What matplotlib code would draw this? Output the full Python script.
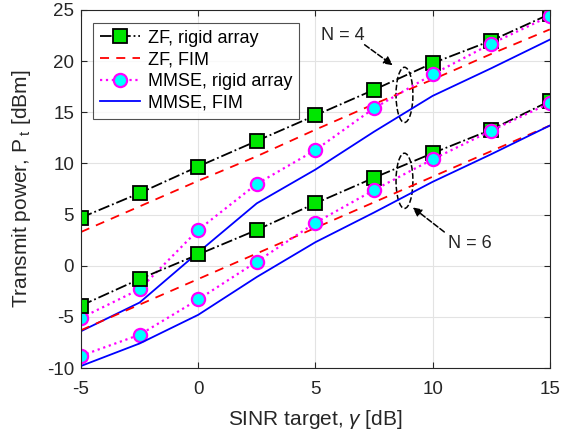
import matplotlib
matplotlib.use("Agg")
import matplotlib.pyplot as plt
from matplotlib.patches import Ellipse

plt.rcParams['font.family'] = ['Liberation Sans', 'DejaVu Sans']
plt.rcParams['mathtext.fontset'] = 'custom'
plt.rcParams['mathtext.rm'] = 'Liberation Sans'
plt.rcParams['mathtext.it'] = 'Liberation Sans:italic'
plt.rcParams['axes.unicode_minus'] = False

sinr = [-5, -2.5, 0, 2.5, 5, 7.5, 10, 12.5, 15]

zf_rigid_n4 = [4.7, 7.1, 9.7, 12.2, 14.7, 17.2, 19.8, 22.0, 24.6]
zf_fim_n4 = [3.3, 5.8, 8.3, 10.7, 13.3, 15.8, 18.2, 20.7, 23.1]
mmse_rigid_n4 = [-5.1, -2.3, 3.5, 8.0, 11.3, 15.4, 18.7, 21.7, 24.4]
mmse_fim_n4 = [-6.4, -3.6, 1.3, 6.1, 9.4, 13.1, 16.6, 19.3, 22.1]

zf_rigid_n6 = [-3.9, -1.3, 1.1, 3.5, 6.1, 8.6, 11.0, 13.3, 16.1]
zf_fim_n6 = [-6.3, -3.8, -1.3, 1.2, 3.7, 6.2, 8.7, 11.2, 13.7]
mmse_rigid_n6 = [-8.8, -6.75, -3.3, 0.4, 4.2, 7.4, 10.4, 13.2, 15.9]
mmse_fim_n6 = [-9.8, -7.6, -4.8, -1.1, 2.3, 5.2, 8.2, 10.9, 13.7]

labels = ["ZF, rigid array", "ZF, FIM", "MMSE, rigid array", "MMSE, FIM"]

fig = plt.figure(figsize=(5.61, 4.34), dpi=100)
ax = fig.add_axes([0.1444, 0.152, 0.8356, 0.825])

lw = 1.3
zf_kw = dict(color='black', ls='-.', lw=lw, marker='s', ms=9.5,
             mfc='#00e600', mec='black', mew=1.3)
zff_kw = dict(color='#ff0000', ls=(0, (5, 4)), lw=lw)
mm_kw = dict(color='#ff00ff', ls=':', lw=1.6, marker='o', ms=9.5,
             mfc='#00ffff', mec='#ff00ff', mew=1.6)
mmf_kw = dict(color='#0000ff', ls='-', lw=lw)

h1, = ax.plot(sinr, zf_rigid_n4, label=labels[0], **zf_kw)
h2, = ax.plot(sinr, zf_fim_n4, label=labels[1], **zff_kw)
h3, = ax.plot(sinr, mmse_rigid_n4, label=labels[2], **mm_kw)
h4, = ax.plot(sinr, mmse_fim_n4, label=labels[3], **mmf_kw)
ax.plot(sinr, zf_rigid_n6, **zf_kw)
ax.plot(sinr, zf_fim_n6, **zff_kw)
ax.plot(sinr, mmse_rigid_n6, **mm_kw)
ax.plot(sinr, mmse_fim_n6, **mmf_kw)

ax.set_xlim(-5, 15)
ax.set_ylim(-10, 25)
ax.set_xticks([-5, 0, 5, 10, 15])
ax.set_yticks([-10, -5, 0, 5, 10, 15, 20, 25])
ax.grid(True, color='#e3e3e3', lw=0.8)
ax.set_axisbelow(True)
ax.tick_params(direction='in', length=4, labelsize=13.5, colors='#262626',
               top=True, right=True, pad=5)
ax.tick_params(axis='x', pad=9.5)
for s in ax.spines.values():
    s.set_color('#262626')
    s.set_linewidth(0.8)

ax.set_xlabel(r'SINR target, $\gamma$ [dB]', fontsize=15, color='#262626', labelpad=7)
ax.set_ylabel(r'Transmit power, P$_{\;\mathrm{t}}$ [dBm]', fontsize=15, color='#262626', labelpad=10)

leg = ax.legend(handles=[h1, h2, h3, h4], loc='upper left', fontsize=13,
                bbox_to_anchor=(0.025, 0.965), borderaxespad=0, frameon=True,
                fancybox=False, edgecolor='#262626', handlelength=2.2,
                handletextpad=0.45, borderpad=0.4, labelspacing=0.26)
leg.get_frame().set_linewidth(0.8)

# ellipses and annotations
ax.add_patch(Ellipse((8.8, 16.7), 0.72, 5.4, fill=False, ec='black', ls='--', lw=1.1))
ax.add_patch(Ellipse((8.8, 8.3), 0.72, 5.4, fill=False, ec='black', ls='--', lw=1.1))

arrow_kw = dict(arrowstyle='-|>', ls='--', color='black', lw=1.1,
                shrinkA=0, shrinkB=0, mutation_scale=13)
ax.annotate('', xy=(8.3, 19.6), xytext=(7.1, 21.6), arrowprops=arrow_kw)
ax.annotate('', xy=(9.15, 5.7), xytext=(10.5, 3.3), arrowprops=arrow_kw)
ax.text(6.16, 22.55, 'N = 4', fontsize=13, ha='center', va='center', color='#262626')
ax.text(11.57, 2.2, 'N = 6', fontsize=13, ha='center', va='center', color='#262626')

fig.savefig('out.png', dpi=100)
